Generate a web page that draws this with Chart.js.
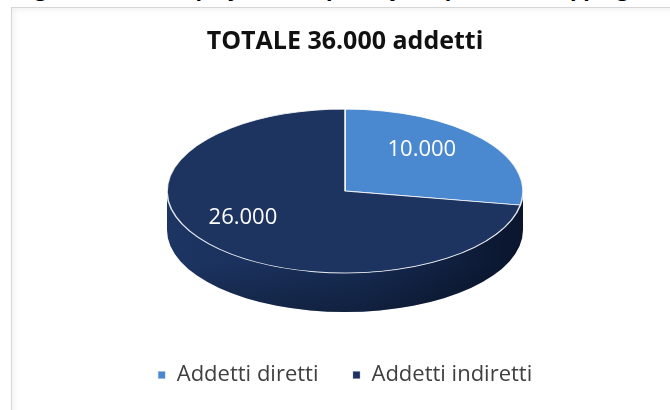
<!DOCTYPE html>
<html lang="it">
<head>
<meta charset="utf-8">
<script src="https://cdn.jsdelivr.net/npm/chart.js@4.4.0/dist/chart.umd.min.js"></script>
<style>
    html, body { margin: 0; padding: 0; background: #fff; }
    body { width: 670px; height: 410px; position: relative; overflow: hidden; }
    /* riga della didascalia sopra il grafico, tagliata in alto */
    .caption { position: absolute; left: 0; top: 0; width: 670px; height: 5px; overflow: hidden; }
    .caption span { position: absolute; left: 18px; top: -28px; white-space: nowrap;
        font: italic bold 22px "Open Sans", sans-serif; color: #000; }
    .frame { position: absolute; left: 11px; top: 7px; width: 700px; height: 440px;
        border: 1px solid #d6d6d6; box-shadow: inset 2px 2px 6px rgba(0,0,0,0.06); }
    .wrap { position: absolute; left: 0; top: 0; width: 670px; height: 410px; }
</style>
</head>
<body>
<div class="caption"><span>Figure 4 – The employment impact of the port and shipping industry, by type of employment generated in Italy</span></div>
<div class="frame"></div>
<div class="wrap"><canvas id="pieChart" width="670" height="410"></canvas></div>
<script>
// dati del grafico
const categorie = ['Addetti diretti', 'Addetti indiretti'];
const addetti = [10000, 26000];
const colori = ['#4a88cf', '#1d3461'];

// geometria della torta 3D
const centerX = 345;
const centerY = 191;
const rimX = 178;
const rimY = 82;
const depth = 39;

// spostamento angolare delle etichette (radianti)
const labelShift = [-0.16, 0.18];

function formatNum(v) {
    return String(v).replace(/\B(?=(\d{3})+(?!\d))/g, '.');
}

const totale = addetti.reduce((a, b) => a + b, 0);

// schiaccia la torta in un'ellisse e disegna il bordo laterale
const pie3d = {
    id: 'pie3d',
    beforeDatasetsDraw(chart) {
        const ctx = chart.ctx;
        const arc = chart.getDatasetMeta(0).data[0];
        if (!arc) return;
        ctx.save();
        const sidePath = () => {
            ctx.beginPath();
            ctx.ellipse(centerX, centerY + depth, rimX, rimY, 0, 0, Math.PI);
            ctx.lineTo(centerX - rimX, centerY);
            ctx.ellipse(centerX, centerY, rimX, rimY, 0, Math.PI, 0, true);
            ctx.closePath();
        };
        const grad = ctx.createLinearGradient(centerX - rimX, 0, centerX + rimX, 0);
        grad.addColorStop(0, '#1d3563');
        grad.addColorStop(0.55, '#162b53');
        grad.addColorStop(1, '#0a152d');
        ctx.fillStyle = grad;
        sidePath();
        ctx.fill();
        // ombra verso il fondo del bordo
        const shade = ctx.createLinearGradient(0, centerY + rimY - 10, 0, centerY + rimY + depth);
        shade.addColorStop(0, 'rgba(0,0,0,0)');
        shade.addColorStop(1, 'rgba(0,0,0,0.25)');
        ctx.fillStyle = shade;
        sidePath();
        ctx.fill();
        ctx.restore();

        ctx.save();
        ctx.translate(centerX, centerY);
        ctx.scale(rimX / arc.outerRadius, rimY / arc.outerRadius);
        ctx.translate(-arc.x, -arc.y);
    },
    afterDatasetsDraw(chart) {
        const ctx = chart.ctx;
        ctx.restore();
        // etichette dei valori
        ctx.save();
        ctx.font = '22px "Open Sans", sans-serif';
        ctx.fillStyle = '#ffffff';
        ctx.textAlign = 'center';
        ctx.textBaseline = 'middle';
        chart.getDatasetMeta(0).data.forEach((a, i) => {
            const mid = (a.startAngle + a.endAngle) / 2 + labelShift[i];
            const x = centerX + Math.cos(mid) * rimX * 0.66;
            const y = centerY + Math.sin(mid) * rimY * 0.66;
            ctx.fillText(formatNum(addetti[i]), x, y);
        });
        ctx.restore();
    }
};

const ctx = document.getElementById('pieChart').getContext('2d');
new Chart(ctx, {
    type: 'pie',
    data: {
        labels: categorie,
        datasets: [{
            data: addetti,
            backgroundColor: colori,
            borderColor: 'rgba(255,255,255,0.85)',
            borderWidth: 1.2,
            clip: false
        }]
    },
    options: {
        responsive: false,
        animation: false,
        layout: { padding: { top: 27, bottom: 14, left: 34, right: 14 } },
        events: [],
        plugins: {
            title: {
                display: true,
                text: 'TOTALE ' + formatNum(totale) + ' addetti',
                color: '#111',
                font: { family: '"Open Sans", sans-serif', size: 25, weight: 'bold' },
                padding: { top: 0, bottom: 19 }
            },
            legend: {
                position: 'bottom',
                labels: {
                    color: '#404040',
                    font: { family: '"Open Sans", sans-serif', size: 22 },
                    usePointStyle: true,
                    pointStyle: 'rect',
                    boxWidth: 8,
                    boxHeight: 8,
                    padding: 34
                }
            },
            tooltip: { enabled: false }
        }
    },
    plugins: [pie3d]
});
</script>
</body>
</html>
